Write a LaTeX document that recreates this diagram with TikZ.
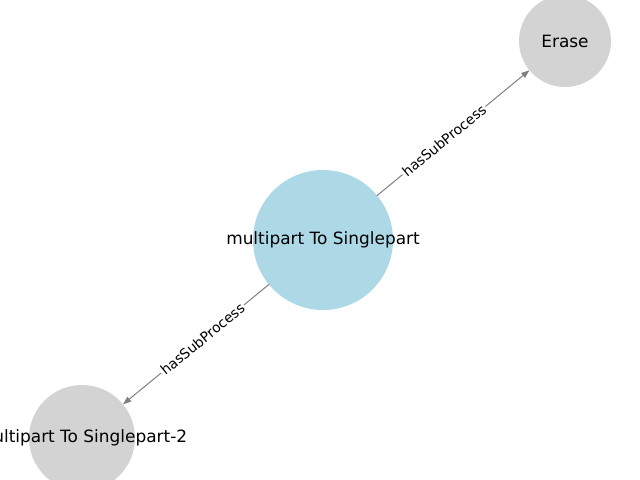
\documentclass[tikz,border=0pt]{standalone}
\usepackage{fontspec}
\setmainfont{DejaVu Sans}
\usetikzlibrary{arrows.meta}
\definecolor{procblue}{HTML}{ADD8E6}
\definecolor{procgray}{HTML}{D3D3D3}
\begin{document}
\begin{tikzpicture}[x=0.72pt,y=-0.72pt,>={Triangle[length=6pt,width=4.3pt]},line join=round,line cap=round,
	proc/.style={circle,inner sep=0pt,outer sep=0pt,minimum size=#1*0.72pt},
	every label/.append style={font=\fontsize{12.2}{14}\selectfont,inner sep=0pt},
	rel/.style={draw=gray,line width=0.72pt,->},
	lbl/.style={fill=white,inner sep=1.2pt,sloped,font=\fontsize{10}{12}\selectfont}]
	\useasboundingbox (0,0) rectangle (640,480);
	% cac dinh
	\node[proc=140,fill=procblue,label=center:multipart To Singlepart] (mts) at (323,240) {};
	\node[proc=92,fill=procgray,label=center:Erase] (erase) at (565,41) {};
	\node[proc=106,fill=procgray,label=center:multipart To Singlepart-2] (mts2) at (82,438) {};
	% cac canh
	\draw[rel] (mts) -- (erase);
	\draw[rel] (mts) -- (mts2);
	% nhan canh (giua hai tam)
	\path (mts.center) -- node[lbl] {hasSubProcess} (erase.center);
	\path (mts.center) -- node[lbl] {hasSubProcess} (mts2.center);
\end{tikzpicture}
\end{document}
